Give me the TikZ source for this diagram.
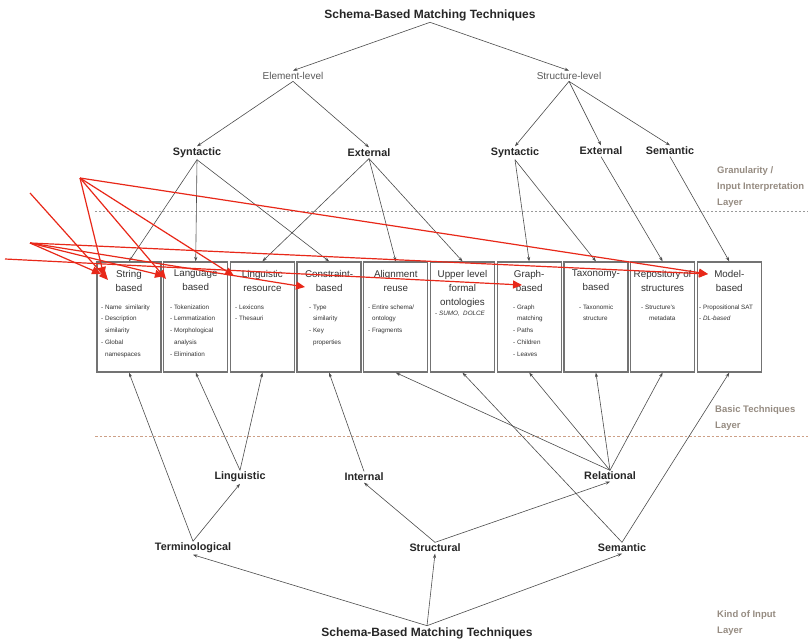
\documentclass[tikz,border=0pt]{standalone}
\usepackage{fontspec}
\setmainfont{Liberation Sans}
\usetikzlibrary{arrows.meta}
\definecolor{layertext}{RGB}{150,140,130}
\definecolor{layerline}{RGB}{205,160,135}
\definecolor{hl}{RGB}{232,40,25}
\begin{document}
\begin{tikzpicture}[x=1pt,y=-1pt,
  lbl/.style={font=\fontsize{10.8}{13}\selectfont\bfseries, text=black!85, inner sep=1.5pt},
  lvl/.style={font=\fontsize{10}{12}\selectfont, text=black!65, inner sep=1.5pt},
  ttl/.style={font=\fontsize{12}{14}\selectfont\bfseries, text=black!85, inner sep=1.5pt},
  layer/.style={font=\fontsize{9.5}{16}\selectfont\bfseries, text=layertext, align=left, anchor=north west, inner sep=0},
  tech/.style={draw=black!55, line width=1.3pt, minimum width=64pt, minimum height=110pt, inner sep=0, fill=white},
  boxtitle/.style={font=\fontsize{9.8}{14}\selectfont, text=black!80, align=center, anchor=north, inner sep=0},
  items/.style={font=\fontsize{6.3}{11.7}\selectfont, text=black!80, align=left, anchor=north west, inner sep=0},
  conn/.style={draw=black!70, line width=0.6pt, -{Stealth[length=4.5pt,width=3.2pt]}},
  hlarrow/.style={draw=hl, line width=1.2pt, -{Triangle[length=9pt,width=8pt]}},
]
\useasboundingbox (0,0) rectangle (808,643);
\fill[white] (0,0) rectangle (808,643);

% layer separators
\draw[black!40, dash pattern=on 2pt off 2pt, line width=0.6pt] (95,211) -- (808,211);
\draw[layerline, dash pattern=on 2.5pt off 2pt, line width=0.6pt] (95,436) -- (808,436);

% layer names
\node[layer] (lay1) at (717,166) {Granularity /\\Input Interpretation\\Layer};
\node[layer] (lay2) at (715,405) {Basic Techniques\\Layer};
\node[layer] (lay3) at (717,610) {Kind of Input\\Layer};

% top classification
\node[ttl] (top) at (430,15) {Schema-Based Matching Techniques};
\node[lvl] (elem) at (293,76) {Element-level};
\node[lvl] (strc) at (569,76) {Structure-level};
\node[lbl] (syn1) at (197,153) {Syntactic};
\node[lbl] (ext1) at (369,153) {External};
\node[lbl] (syn2) at (515,153) {Syntactic};
\node[lbl] (ext2) at (601,151) {External};
\node[lbl] (sem1) at (670,151) {Semantic};

% basic techniques
\foreach \i/\t in {1/{String\\based},2/{Language\\based},3/{Linguistic\\resource},
  4/{Constraint-\\based},5/{Alignment\\reuse},6/{Upper level\\formal\\ontologies},
  7/{Graph-\\based},8/{Taxonomy-\\based},9/{Repository of\\structures},10/{Model-\\based}}{
  \node[tech] (b\i) at ({129+66.7*(\i-1)},317) {};
  \node[boxtitle] (t\i) at ({129+66.7*(\i-1)},270) {\t};
}
\node[items] (i1) at (101,304.5) {- Name\ \ similarity\\- Description\\\phantom{- }similarity\\- Global\\\phantom{- }namespaces};
\node[items] (i2) at (170,304.5) {- Tokenization\\- Lemmatization\\- Morphological\\\phantom{- }analysis\\- Elimination};
\node[items] (i3) at (235,304.5) {- Lexicons\\- Thesauri};
\node[items] (i4) at (309,304.5) {- Type\\\phantom{- }similarity\\- Key\\\phantom{- }properties};
\node[items] (i5) at (368,304.5) {- Entire schema/\\\phantom{- }ontology\\- Fragments};
\node[items] (i6) at (435,311) {- \textit{SUMO,\ \ DOLCE}};
\node[items] (i7) at (513,304.5) {- Graph\\\phantom{- }matching\\- Paths\\- Children\\- Leaves};
\node[items] (i8) at (579,304.5) {- Taxonomic\\\phantom{- }structure};
\node[items] (i9) at (641,304.5) {- Structure's\\\hspace{8pt}metadata};
\node[items] (i10) at (699,304.5) {- Propositional SAT\\- \textit{DL-based}};

% kind of input
\node[lbl] (ling) at (240,477) {Linguistic};
\node[lbl] (intl) at (364,477) {Internal};
\node[lbl] (rel) at (610,476) {Relational};
\node[lbl] (term) at (193,548) {Terminological};
\node[lbl] (stru) at (435,548) {Structural};
\node[lbl] (sem2) at (622,548) {Semantic};
\node[ttl] (bot) at (427,633) {Schema-Based Matching Techniques};

% top-down hierarchy
\draw[conn] (top.south) -- (elem.north);
\draw[conn] (top.south) -- (strc.north);
\draw[conn] (elem.south) -- (syn1.north);
\draw[conn] (elem.south) -- (ext1.north);
\draw[conn] (strc.south) -- (syn2.north);
\draw[conn] (strc.south) -- (ext2.north);
\draw[conn] (strc.south) -- (sem1.north);
\foreach \b in {1,2,4} \draw[conn] (syn1.south) -- (b\b.north);
\foreach \b in {3,5,6} \draw[conn] (ext1.south) -- (b\b.north);
\foreach \b in {7,8} \draw[conn] (syn2.south) -- (b\b.north);
\draw[conn] (ext2.south) -- (b9.north);
\draw[conn] (sem1.south) -- (b10.north);

% bottom-up hierarchy
\draw[conn] (bot.north) -- (term.south);
\draw[conn] (bot.north) -- (stru.south);
\draw[conn] (bot.north) -- (sem2.south);
\draw[conn] (term.north) -- (b1.south);
\draw[conn] (term.north) -- (ling.south);
\foreach \b in {2,3} \draw[conn] (ling.north) -- (b\b.south);
\draw[conn] (intl.north) -- (b4.south);
\draw[conn] (stru.north) -- (intl.south);
\draw[conn] (stru.north) -- (rel.south);
\foreach \b in {5,7,8,9} \draw[conn] (rel.north) -- (b\b.south);
\foreach \b in {6,10} \draw[conn] (sem2.north) -- (b\b.south);

% red overlay strokes
\coordinate (h1) at (80,178);
\coordinate (h2) at (30,193);
\coordinate (h3) at (30,243);
\coordinate (h4) at (5,259);
\coordinate (r1) at (104,276);
\coordinate (r2) at (166,279);
\coordinate (r3) at (234,276);
\coordinate (r4) at (305,287);
\coordinate (r5) at (708,274);
\coordinate (r6) at (108,280);
\coordinate (r7) at (522,285);
\coordinate (r8) at (101,274);
\coordinate (r9) at (164,276);
\foreach \r in {r1,r2,r3,r5} \draw[hlarrow] (h1) -- (\r);
\draw[hlarrow] (h2) -- (r6);
\foreach \r in {r8,r9,r4,r5} \draw[hlarrow] (h3) -- (\r);
\draw[hlarrow] (h4) -- (r7);
\end{tikzpicture}
\end{document}
